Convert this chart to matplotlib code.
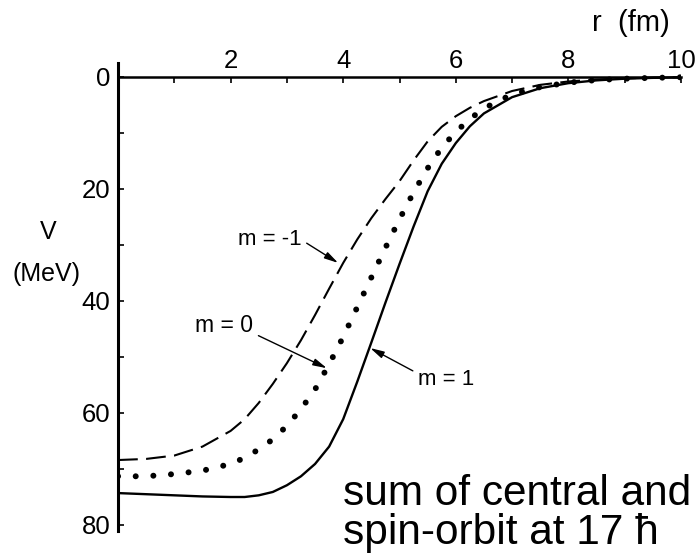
import matplotlib
matplotlib.use("Agg")
import matplotlib.pyplot as plt

plt.rcParams['font.family'] = ['Liberation Sans', 'DejaVu Sans']

# radius grid (fm) shared by the three curves
r = [0, 0.5, 1.0, 1.5, 2.0, 2.25, 2.5, 2.75, 3.0, 3.25, 3.5, 3.75, 4.0, 4.25,
     4.5, 4.75, 5.0, 5.25, 5.5, 5.75, 6.0, 6.25, 6.5, 7.0, 7.5, 8.0, 8.5, 9.0,
     9.5, 10.0]

# V (MeV), plotted downward
v_m1 = [74.3, 74.5, 74.7, 74.9, 75.0, 75.0, 74.7, 74.1, 72.9, 71.3, 69.1, 66.0,
        61.1, 54.4, 47.4, 40.3, 33.4, 26.7, 20.4, 15.5, 11.8, 8.8, 6.5, 3.6,
        2.0, 1.1, 0.6, 0.3, 0.15, 0.05]
v_m0 = [71.3, 71.3, 70.9, 70.3, 69.1, 68.0, 66.5, 64.7, 62.3, 59.3, 55.8, 51.3,
        46.4, 41.1, 35.8, 30.5, 25.4, 20.6, 16.3, 12.6, 9.8, 7.5, 5.6, 3.1,
        1.8, 1.0, 0.55, 0.3, 0.15, 0.05]
v_mm1 = [68.4, 68.2, 67.6, 66.0, 63.2, 61.1, 58.2, 54.8, 51.1, 47.0, 42.5, 37.8,
         33.2, 29.0, 25.2, 21.8, 18.6, 14.9, 11.5, 8.9, 7.0, 5.5, 4.3, 2.5,
         1.4, 0.8, 0.45, 0.25, 0.1, 0.05]

x_major = [2, 4, 6, 8, 10]
x_minor = [1, 3, 5, 7, 9]
y_major = [0, 20, 40, 60, 80]
y_minor = [10, 30, 50, 70]

fig = plt.figure(figsize=(6.96, 5.53), dpi=100)
ax = fig.add_axes([118/696, 1-530.6/553, (681-118)/696, (530.6-63)/553])

ax.plot(r, v_m1, color='black', lw=1.7, solid_joinstyle='round')
ax.plot(r, v_m0, color='black', lw=4.3, linestyle=(0, (0.01, 2.95)),
        dash_capstyle='round')
ax.plot(r, v_mm1, color='black', lw=1.5, linestyle=(0, (9.5, 4)))

ax.set_xlim(0, 10)
ax.set_ylim(81, -2.5)

ax.spines['right'].set_visible(False)
ax.spines['bottom'].set_visible(False)
ax.spines['top'].set_position(('data', 0))
ax.spines['top'].set_linewidth(1.8)
ax.spines['left'].set_linewidth(2.2)

ax.xaxis.set_ticks_position('top')
ax.xaxis.set_label_position('top')
ax.set_xticks(x_major)
ax.set_xticks(x_minor, minor=True)
ax.set_yticks(y_major)
ax.set_yticks(y_minor, minor=True)
ax.tick_params(axis='x', which='both', direction='in', length=4.5, width=1.2,
               labelsize=18.5, pad=3)
ax.tick_params(axis='y', which='both', direction='in', length=4.5, width=1.2,
               labelsize=18.5, pad=5.5)

fig.text(670/696, 1-23/553, 'r  (fm)', fontsize=21, ha='right', va='center')
fig.text(48/696, 1-232/553, 'V', fontsize=18, ha='center', va='center')
fig.text(47/696, 1-274/553, '(MeV)', fontsize=18, ha='center', va='center')

arrow = dict(arrowstyle='-|>,head_length=0.55,head_width=0.14', color='black',
             lw=1.0, mutation_scale=15, shrinkB=0)
ax.annotate('m = -1', xy=(3.91, 33.2), xytext=(2.13, 29.1), fontsize=16,
            ha='left', va='center', arrowprops=dict(arrow, relpos=(1, 0.5)))
ax.annotate('m = 0', xy=(3.71, 52.0), xytext=(1.37, 44.3), fontsize=16.5,
            ha='left', va='center', arrowprops=dict(arrow, relpos=(1, 0.15)))
ax.annotate('m = 1', xy=(4.48, 48.4), xytext=(5.33, 54.1), fontsize=16,
            ha='left', va='center', arrowprops=dict(arrow, relpos=(0, 0.8)))

fig.text(343/696, 1-505/553, 'sum of central and', fontsize=30.5,
         ha='left', va='baseline')
fig.text(343/696, 1-544/553, 'spin-orbit at 17 \u0127', fontsize=30.5,
         ha='left', va='baseline')

fig.savefig('out.png', dpi=100)
